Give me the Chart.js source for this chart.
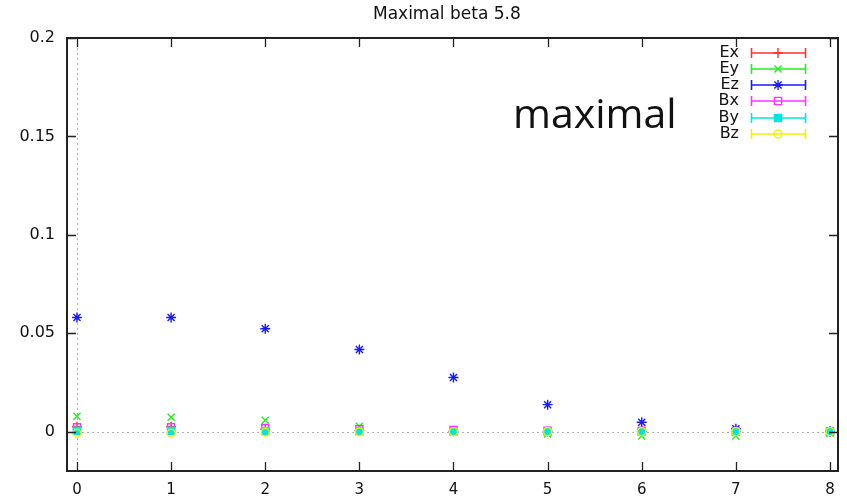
<!DOCTYPE html>
<html><head><meta charset="utf-8">
<script src="https://cdn.jsdelivr.net/npm/chart.js@4/dist/chart.umd.min.js"></script>
<style>html,body{margin:0;padding:0;background:#fff}#wrap{width:847px;height:497px}</style>
</head><body><div id="wrap"><canvas id="c"></canvas></div>
<script>
const titleText = "Maximal beta 5.8";
const noteText = "maximal";
const xValues = [0, 1, 2, 3, 4, 5, 6, 7, 8];
const xTicks = [0, 1, 2, 3, 4, 5, 6, 7, 8];
const yTicks = [0, 0.05, 0.1, 0.15, 0.2];
const seriesNames = ["Ex", "Ey", "Ez", "Bx", "By", "Bz"];
const Ex = [0.0025, 0.0025, 0.0012, 0.0005, 0.0002, 0.0001, 0.0001, 0.0, 0.0];
const Ey = [0.0078, 0.0073, 0.0058, 0.0027, 0.0003, -0.0012, -0.0022, -0.0022, -0.0008];
const Ez = [0.058, 0.058, 0.0523, 0.0417, 0.0275, 0.0137, 0.0048, 0.0015, 0.0002];
const Bx = [0.0022, 0.0022, 0.0018, 0.0012, 0.0008, 0.0005, 0.0004, 0.0003, 0.0001];
const By = [0.0005, 0.0005, 0.0003, 0.0002, 0.0001, 0.0001, 0.0, 0.0, 0.0];
const Bz = [-0.0008, -0.0008, -0.0003, -0.0001, 0.0, 0.0, 0.0, 0.0, 0.0];
const seriesValues = [Ex, Ey, Ez, Bx, By, Bz];

const colors = ["#ff3030", "#22ee22", "#1a1aff", "#ff33ff", "#00e5e5", "#f2f200"];
const styles = [
  {pointStyle: "cross", radius: 5, fill: false},
  {pointStyle: "crossRot", radius: 5, fill: false},
  {pointStyle: "star", radius: 5, fill: false},
  {pointStyle: "rect", radius: 5, fill: false},
  {pointStyle: "rect", radius: 5, fill: true},
  {pointStyle: "circle", radius: 4, fill: false}
];

const datasets = seriesNames.map((n, i) => ({
  label: n,
  data: xValues.map((x, j) => ({x: x, y: seriesValues[i][j]})),
  showLine: false,
  borderColor: colors[i],
  backgroundColor: styles[i].fill ? colors[i] : "rgba(0,0,0,0)",
  pointStyle: styles[i].pointStyle,
  pointRadius: styles[i].radius,
  pointBorderWidth: 1.4,
  order: seriesNames.length - i
}));

const FONT = "'DejaVu Sans', sans-serif";

function marker(ctx, style, r, fill, col, x, y) {
  ctx.strokeStyle = col; ctx.fillStyle = col; ctx.lineWidth = 1.4;
  ctx.beginPath();
  if (style === "cross") {
    ctx.moveTo(x - r, y); ctx.lineTo(x + r, y); ctx.moveTo(x, y - r); ctx.lineTo(x, y + r);
    ctx.stroke();
  } else if (style === "crossRot") {
    const d = r * 0.72;
    ctx.moveTo(x - d, y - d); ctx.lineTo(x + d, y + d); ctx.moveTo(x - d, y + d); ctx.lineTo(x + d, y - d);
    ctx.stroke();
  } else if (style === "star") {
    const d = r * 0.72;
    ctx.moveTo(x - r, y); ctx.lineTo(x + r, y); ctx.moveTo(x, y - r); ctx.lineTo(x, y + r);
    ctx.moveTo(x - d, y - d); ctx.lineTo(x + d, y + d); ctx.moveTo(x - d, y + d); ctx.lineTo(x + d, y - d);
    ctx.stroke();
  } else if (style === "rect") {
    const d = r * 0.72;
    ctx.rect(x - d, y - d, 2 * d, 2 * d);
    if (fill) ctx.fill();
    ctx.stroke();
  } else {
    ctx.arc(x, y, r, 0, Math.PI * 2);
    if (fill) ctx.fill();
    ctx.stroke();
  }
}

const decor = {
  id: "decor",
  beforeDatasetsDraw(chart) {
    const {ctx, chartArea: a, scales: {x, y}} = chart;
    ctx.save();
    ctx.strokeStyle = "#b0b0b0";
    ctx.lineWidth = 1;
    ctx.setLineDash([2, 3]);
    const y0 = Math.round(y.getPixelForValue(0)) + 0.5;
    ctx.beginPath(); ctx.moveTo(a.left, y0); ctx.lineTo(a.right, y0); ctx.stroke();
    const x0 = Math.round(x.getPixelForValue(0)) + 0.5;
    ctx.beginPath(); ctx.moveTo(x0, a.top); ctx.lineTo(x0, a.bottom); ctx.stroke();
    ctx.restore();
  },
  afterDraw(chart) {
    const {ctx, chartArea: a, scales: {x, y}} = chart;
    ctx.save();
    ctx.setLineDash([]);
    ctx.strokeStyle = "#222";
    ctx.lineWidth = 2;
    ctx.strokeRect(a.left, a.top, a.right - a.left, a.bottom - a.top);
    const tl = 9;
    ctx.lineWidth = 1.3;
    ctx.beginPath();
    xTicks.forEach(v => {
      const px = Math.round(x.getPixelForValue(v)) + 0.5;
      ctx.moveTo(px, a.bottom); ctx.lineTo(px, a.bottom - tl);
      ctx.moveTo(px, a.top); ctx.lineTo(px, a.top + tl);
    });
    yTicks.forEach(v => {
      const py = Math.round(y.getPixelForValue(v)) + 0.5;
      ctx.moveTo(a.left, py); ctx.lineTo(a.left + tl, py);
      ctx.moveTo(a.right, py); ctx.lineTo(a.right - tl, py);
    });
    ctx.stroke();
    // title
    ctx.fillStyle = "#111";
    ctx.font = "17px " + FONT;
    ctx.textAlign = "left"; ctx.textBaseline = "alphabetic";
    ctx.fillText(titleText, 373, 19);
    // annotation
    ctx.font = "41px 'Open Sans', 'Noto Sans', sans-serif";
    ctx.fillText(noteText, 513, 128);
    // legend
    const rowH = 16.3, top = 52.5;
    seriesNames.forEach((name, i) => {
      const cy = Math.round(top + i * rowH);
      ctx.fillStyle = "#111";
      ctx.font = "16px " + FONT;
      ctx.textAlign = "right"; ctx.textBaseline = "middle";
      ctx.fillText(name, 739, cy);
      ctx.strokeStyle = colors[i];
      ctx.lineWidth = 1.6;
      ctx.beginPath();
      ctx.moveTo(751, cy); ctx.lineTo(806, cy);
      ctx.moveTo(751.5, cy - 5); ctx.lineTo(751.5, cy + 5);
      ctx.moveTo(805.5, cy - 5); ctx.lineTo(805.5, cy + 5);
      ctx.stroke();
      marker(ctx, styles[i].pointStyle, styles[i].radius, styles[i].fill, colors[i], 778, cy);
    });
    ctx.restore();
  }
};

new Chart(document.getElementById("c"), {
  type: "scatter",
  data: {datasets},
  options: {
    responsive: true, maintainAspectRatio: false, animation: false,
    layout: {padding: {left: 0, right: 9, top: 38, bottom: 0}},
    plugins: {legend: {display: false}, title: {display: false}, tooltip: {enabled: false}},
    scales: {
      x: {
        type: "linear", min: -0.106, max: 8.085,
        grid: {display: false, drawTicks: false}, border: {display: false},
        afterBuildTicks: s => { s.ticks = xTicks.map(v => ({value: v})); },
        afterFit: s => { s.height = 26; },
        ticks: {color: "#111", font: {size: 15, family: FONT}, padding: 10, maxRotation: 0,
                callback: v => String(v)}
      },
      y: {
        type: "linear", min: -0.02, max: 0.2,
        grid: {display: false, drawTicks: false}, border: {display: false},
        afterBuildTicks: s => { s.ticks = yTicks.map(v => ({value: v})); },
        afterFit: s => { s.width = 67; },
        ticks: {color: "#111", font: {size: 16, family: FONT}, padding: 12,
                callback: v => String(v)}
      }
    }
  },
  plugins: [decor]
});
</script></body></html>
